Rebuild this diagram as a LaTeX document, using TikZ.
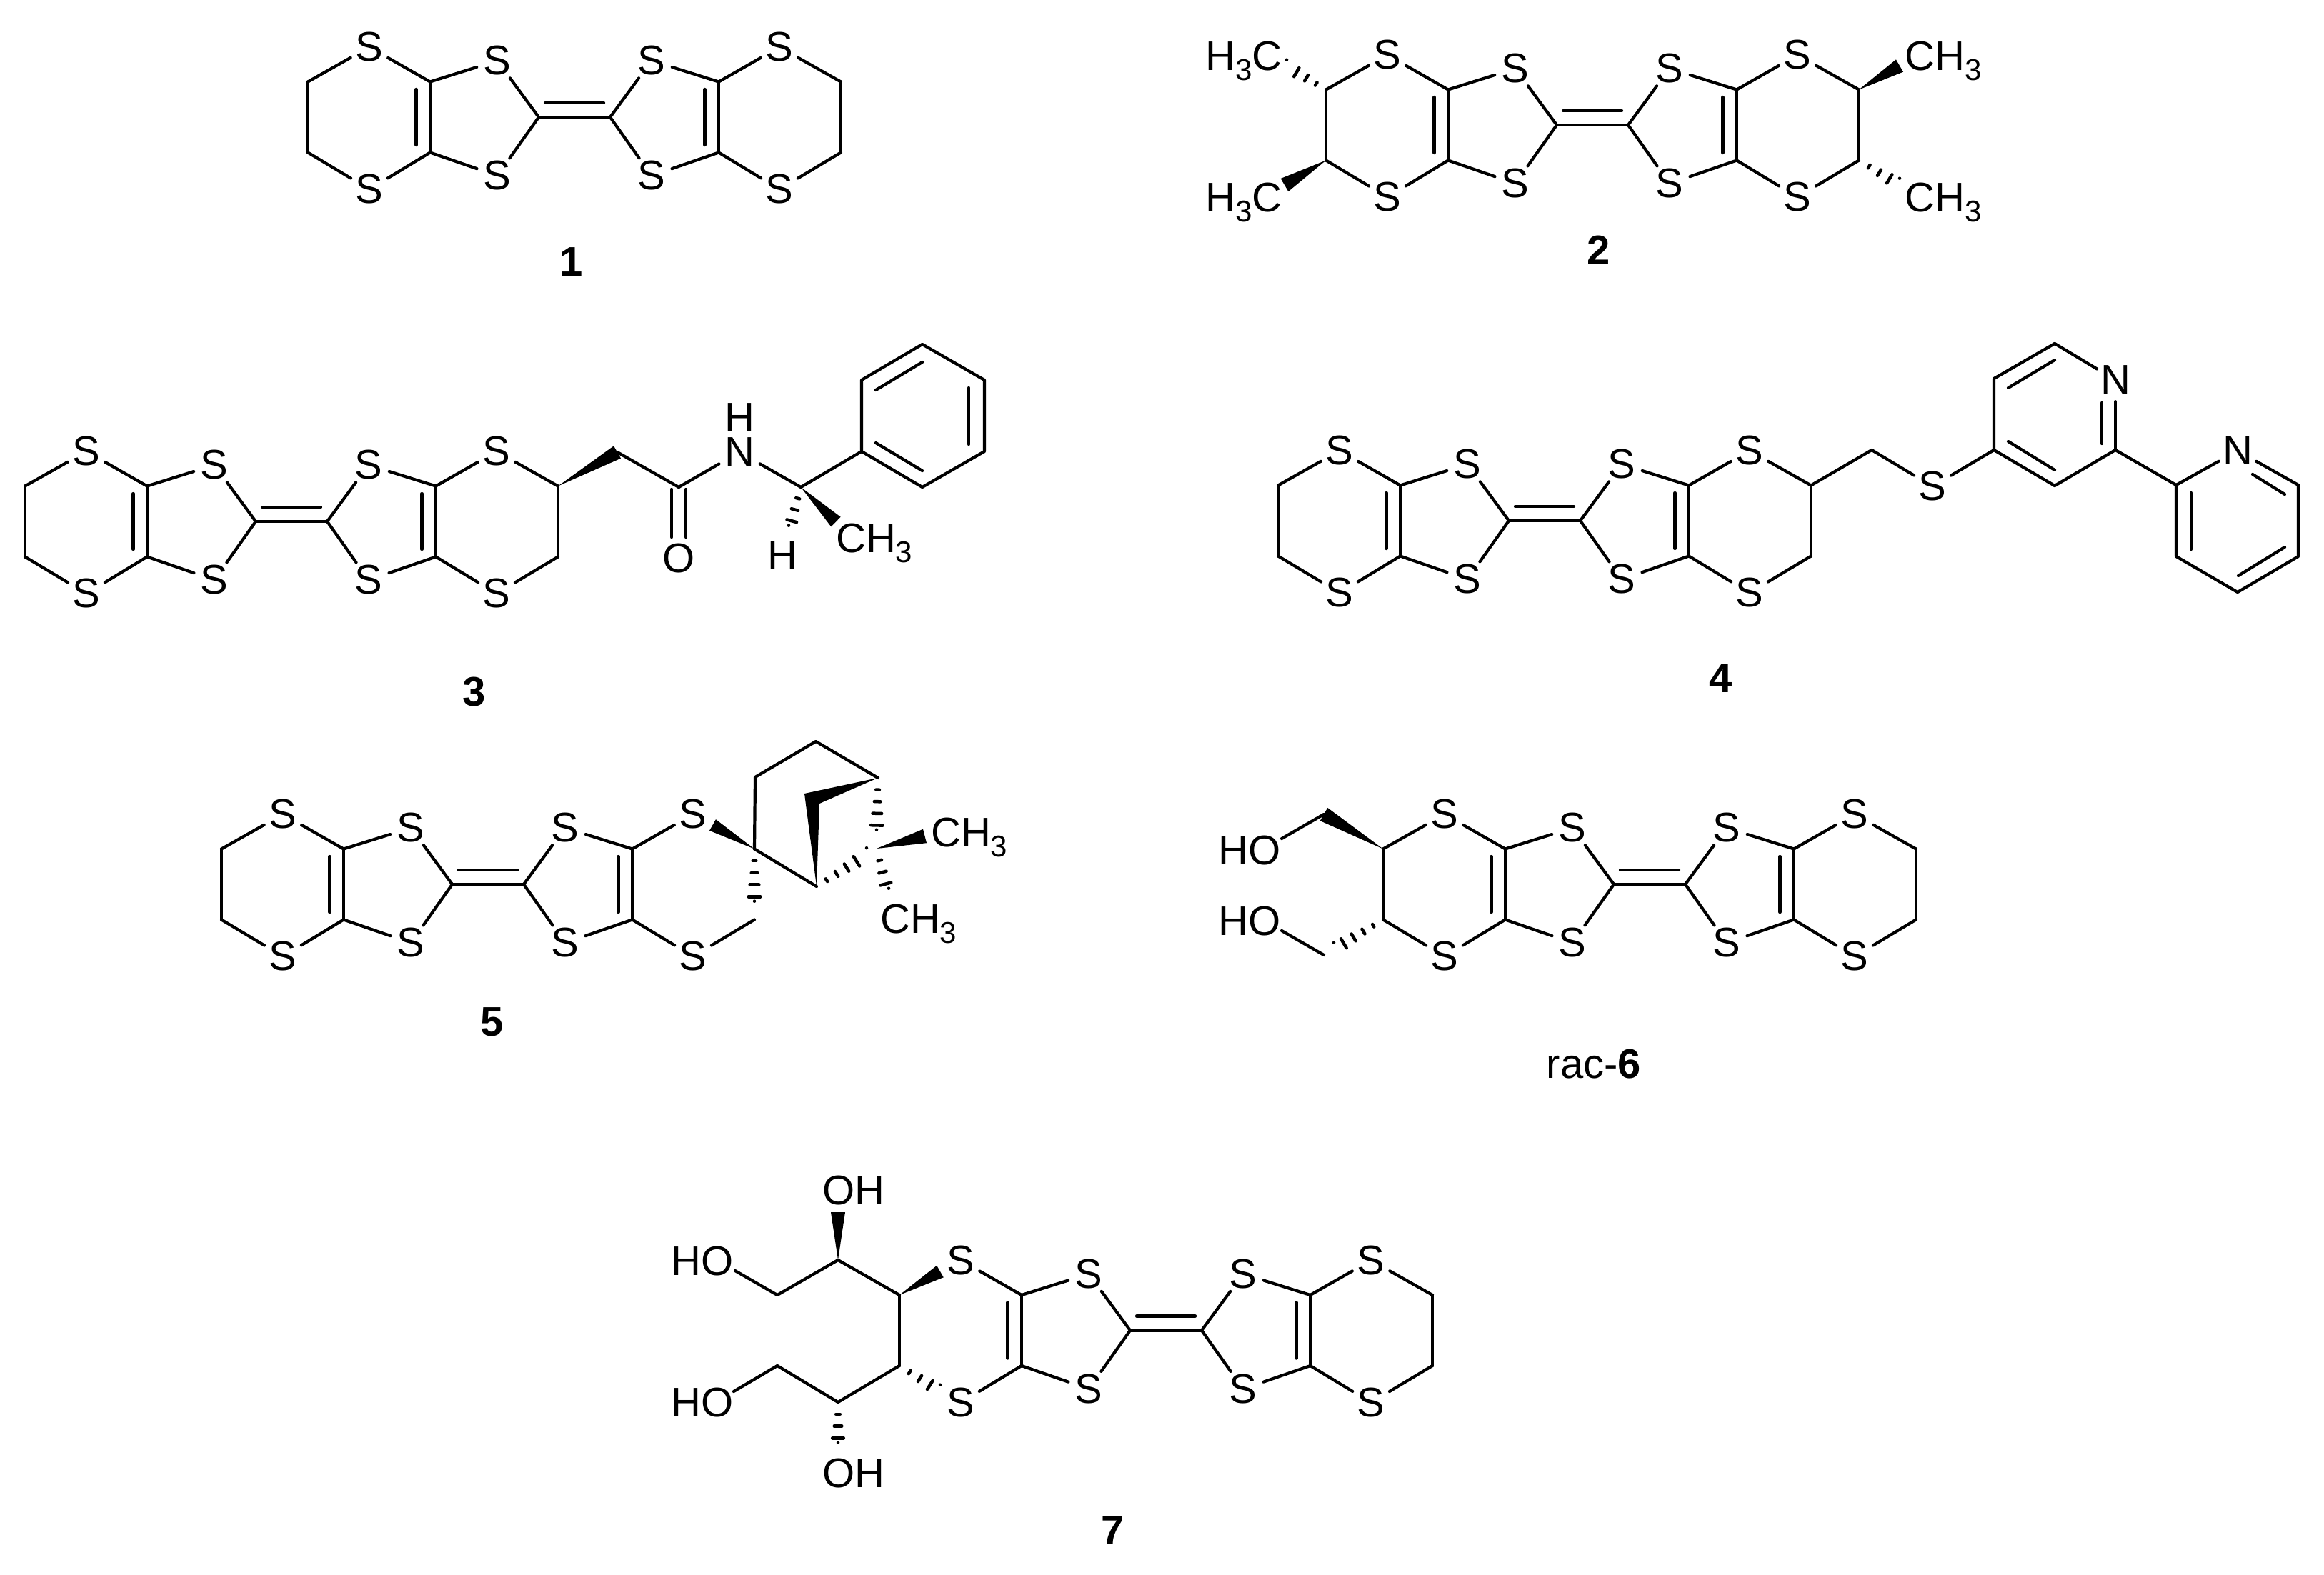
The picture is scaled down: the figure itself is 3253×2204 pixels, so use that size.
\documentclass[tikz,border=0pt]{standalone}
\usepackage{fontspec}
\setmainfont{Liberation Sans}
\usetikzlibrary{calc}
\newcommand{\chemfont}{\fontsize{58}{62}\selectfont}
\newcommand{\subn}[1]{\raisebox{-14pt}{\fontsize{42}{42}\selectfont #1}}
\tikzset{
  bond/.style={line width=4.2pt,line cap=round,line join=round,black},
  hashl/.style={line width=4.5pt,line cap=round,black},
  atom/.style={circle,inner sep=0pt,minimum size=60pt,font=\chemfont,text=black},
  group/.style={inner sep=0pt,anchor=base west,font=\chemfont,text=black},
  lab/.style={inner sep=0pt,font=\chemfont,text=black}
}
% wedge bond: #1 tip, #2 wide-end centre, #3 half width
\newcommand{\wedgeb}[3]{\fill[black] ($(#2)!#3pt!90:(#1)$) -- ($(#2)!#3pt!-90:(#1)$) -- (#1) -- cycle;}
% hashed bond: #1 narrow end, #2 wide-end centre, #3 half width, #4 number of strokes
\newcommand{\hashb}[4]{\foreach \hI in {1,...,#4}{%
  \pgfmathsetmacro{\hT}{\hI/#4}\pgfmathsetmacro{\hL}{#3*\hT+0.3}%
  \coordinate (hm) at ($(#1)!\hT!(#2)$);
  \draw[hashl] ($(hm)!\hL pt!90:(#2)$) -- ($(hm)!\hL pt!-90:(#2)$);}}
% the tetrathiafulvalene core with its six S atoms and ring carbons
\newcommand{\ttfcore}[3]{%
\begin{scope}[shift={(#2,#3)}]
  \coordinate (#1cl) at (-50,0); \coordinate (#1cr) at (50,0);
  \coordinate (#1dl) at (-41,-20); \coordinate (#1dr) at (41,-20);
  \node[atom] (#1si) at (-108,-79) {S};
  \node[atom] (#1sj) at (-108,82) {S};
  \node[atom] (#1sk) at (108,-79) {S};
  \node[atom] (#1sl) at (108,82) {S};
  \coordinate (#1aa) at (-202,-49.5); \coordinate (#1ab) at (-202,49.5);
  \coordinate (#1ba) at (202,-49.5); \coordinate (#1bb) at (202,49.5);
  \coordinate (#1ia) at (-221.5,-39); \coordinate (#1ib) at (-221.5,39);
  \coordinate (#1ja) at (182.5,-39); \coordinate (#1jb) at (182.5,39);
  \node[atom] (#1oa) at (-287,-98) {S};
  \node[atom] (#1ob) at (-287,101) {S};
  \node[atom] (#1oc) at (287,-98) {S};
  \node[atom] (#1od) at (287,101) {S};
  \coordinate (#1ua) at (-373,-49.5); \coordinate (#1ub) at (-373,49.5);
  \coordinate (#1va) at (373,-49.5); \coordinate (#1vb) at (373,49.5);
  \draw[bond] (#1cl) -- (#1cr) (#1dl) -- (#1dr);
  \draw[bond] (#1cl) -- (#1si); \draw[bond] (#1cl) -- (#1sj);
  \draw[bond] (#1cr) -- (#1sk); \draw[bond] (#1cr) -- (#1sl);
  \draw[bond] (#1aa) -- (#1si); \draw[bond] (#1ab) -- (#1sj);
  \draw[bond] (#1ba) -- (#1sk); \draw[bond] (#1bb) -- (#1sl);
  \draw[bond] (#1aa) -- (#1ab) (#1ia) -- (#1ib);
  \draw[bond] (#1ba) -- (#1bb) (#1ja) -- (#1jb);
  \draw[bond] (#1aa) -- (#1oa); \draw[bond] (#1ab) -- (#1ob);
  \draw[bond] (#1ba) -- (#1oc); \draw[bond] (#1bb) -- (#1od);
\end{scope}}
\newcommand{\closeleft}[1]{\draw[bond] (#1ua) -- (#1ub); \draw[bond] (#1ua) -- (#1oa); \draw[bond] (#1ub) -- (#1ob);}
\newcommand{\closeright}[1]{\draw[bond] (#1va) -- (#1vb); \draw[bond] (#1va) -- (#1oc); \draw[bond] (#1vb) -- (#1od);}
\begin{document}
\begin{tikzpicture}[x=1pt,y=-1pt]
\fill[white] (0,0) rectangle (3253,2204);
\useasboundingbox (0,0) rectangle (3253,2204);

% --- 1 ---
\ttfcore{p}{804}{164}
\closeleft{p}\closeright{p}
\node[lab] (labela) at (800,367) {\textbf{1}};

% --- 2 ---
\ttfcore{q}{2229}{175}
\closeleft{q}\closeright{q}
\node[group] (qga) at (1687,98) {H\subn{3}C};
\node[group] (qgb) at (1687,296) {H\subn{3}C};
\node[group] (qgc) at (2666,98) {CH\subn{3}};
\node[group] (qgd) at (2666,296) {CH\subn{3}};
\coordinate (qea) at (1801,93); \coordinate (qeb) at (1798,259);
\coordinate (qec) at (2659,92); \coordinate (qed) at (2659,259);
\hashb{qua}{qea}{9}{4}
\wedgeb{qub}{qeb}{10.5}
\wedgeb{qva}{qec}{10}
\hashb{qvb}{qed}{9}{4}
\node[lab] (labelb) at (2238,350) {\textbf{2}};

% --- 3 ---
\ttfcore{r}{408}{730}
\closeleft{r}\closeright{r}
\coordinate (rch) at (864,633);
\coordinate (rco) at (950,682);
\coordinate (rcs) at (1121,682);
\node[atom,minimum size=52pt] (rn) at (1035,633) {N};
\node[lab] (rnh) at (1035,585) {H};
\node[atom] (ro) at (950,782) {O};
\node[lab] (rh) at (1095,778) {H};
\node[group] (rme) at (1170,773) {CH\subn{3}};
\wedgeb{rva}{rch}{10}
\draw[bond] (rch) -- (rco);
\draw[bond,shorten >=4pt] (rco) -- (rn);
\draw[bond,shorten <=4pt] (rn) -- (rcs);
\coordinate (roa) at (940,685); \coordinate (rob) at (940,752);
\coordinate (roc) at (960,685); \coordinate (rod) at (960,752);
\draw[bond] (roa) -- (rob); \draw[bond] (roc) -- (rod);
\coordinate (rwe) at (1170,730.5);
\wedgeb{rcs}{rwe}{9.5}
\coordinate (rhe) at (1104,745);
\hashb{rcs}{rhe}{9}{4}
\coordinate (pha) at (1206,632); \coordinate (phb) at (1206,532);
\coordinate (phc) at (1291,482); \coordinate (phd) at (1378,532);
\coordinate (phe) at (1378,632); \coordinate (phf) at (1291,682);
\draw[bond] (rcs) -- (pha);
\draw[bond] (pha) -- (phb) -- (phc) -- (phd) -- (phe) -- (phf) -- cycle;
\coordinate (pia) at (1226,546); \coordinate (pib) at (1291,507);
\coordinate (pic) at (1356,543); \coordinate (pid) at (1356,622);
\coordinate (pie) at (1226,620); \coordinate (pif) at (1291,659);
\draw[bond] (pia) -- (pib); \draw[bond] (pic) -- (pid); \draw[bond] (pie) -- (pif);
\node[lab] (labelc) at (664,969) {\textbf{3}};

% --- 4 ---
\ttfcore{s}{2162}{729}
\closeleft{s}\closeright{s}
\coordinate (sch) at (2620,630);
\node[atom] (sts) at (2705,681) {S};
\draw[bond] (sva) -- (sch); \draw[bond] (sch) -- (sts);
\coordinate (pya) at (2791,630); \coordinate (pyb) at (2791,530);
\coordinate (pyc) at (2876,481); \node[atom] (pyn) at (2961,532) {N};
\coordinate (pyd) at (2961,630); \coordinate (pye) at (2876,680);
\draw[bond] (sts) -- (pya);
\draw[bond] (pye) -- (pya) -- (pyb) -- (pyc);
\draw[bond] (pyc) -- (pyn); \draw[bond] (pyn) -- (pyd);
\draw[bond] (pyd) -- (pye);
\coordinate (pyi) at (2811,543); \coordinate (pyj) at (2876,504);
\coordinate (pyk) at (2811,618); \coordinate (pyl) at (2876,658);
\coordinate (pym) at (2942,564); \coordinate (pyo) at (2942,621);
\draw[bond] (pyi) -- (pyj); \draw[bond] (pyk) -- (pyl); \draw[bond] (pym) -- (pyo);
\coordinate (pza) at (3046,679); \node[atom] (pzn) at (3132,631) {N};
\coordinate (pzb) at (3217,679); \coordinate (pzc) at (3217,779);
\coordinate (pzd) at (3132,829); \coordinate (pze) at (3046,779);
\draw[bond] (pyd) -- (pza);
\draw[bond] (pza) -- (pzn); \draw[bond] (pzn) -- (pzb);
\draw[bond] (pzb) -- (pzc) -- (pzd) -- (pze) -- (pza);
\coordinate (pzi) at (3153,664); \coordinate (pzj) at (3198,692);
\coordinate (pzk) at (3198,766); \coordinate (pzl) at (3133,806);
\coordinate (pzm) at (3067,690); \coordinate (pzo) at (3067,769);
\draw[bond] (pzi) -- (pzj); \draw[bond] (pzk) -- (pzl); \draw[bond] (pzm) -- (pzo);
\node[lab] (labeld) at (2409,950) {\textbf{4}};

% --- 5 ---
\ttfcore{t}{683}{1238}
\closeleft{t}
\draw[bond] (tvb) -- (tod);
\coordinate (twa) at (997.5,1155);
\wedgeb{tva}{twa}{9}
\coordinate (twb) at (1056,1272);
\hashb{tva}{twb}{10}{5}
\coordinate (tka) at (1057,1088); \coordinate (tkb) at (1142,1038);
\coordinate (tkc) at (1229,1089); \coordinate (tkd) at (1143,1241);
\coordinate (tke) at (1227,1188);
\draw[bond] (tva) -- (tka) -- (tkb) -- (tkc);
\draw[bond] (tva) -- (tkd);
\coordinate (tpa) at (1126,1111); \coordinate (tpb) at (1147,1125);
\fill[black] (tkc) -- (tpa) -- (tkd) -- (tpb) -- cycle;
\coordinate (tha) at (1227,1172);
\hashb{tkc}{tha}{10}{5}
\coordinate (thb) at (1213,1197);
\hashb{tkd}{thb}{9.5}{5}
\coordinate (thc) at (1244,1254);
\hashb{tke}{thc}{10}{4}
\coordinate (thd) at (1294.5,1170.5);
\wedgeb{tke}{thd}{10}
\node[group] (tma) at (1303,1185) {CH\subn{3}};
\node[group] (tmb) at (1232,1306) {CH\subn{3}};
\node[lab] (labele) at (689,1431) {\textbf{5}};

% --- rac-6 ---
\ttfcore{u}{2309}{1238}
\closeleft{u}\closeright{u}
\coordinate (uca) at (1853,1140); \coordinate (uea) at (1794,1174);
\wedgeb{uua}{uca}{10.5}
\draw[bond] (uca) -- (uea);
\coordinate (ucb) at (1867,1329); \coordinate (ueb) at (1794,1303);
\coordinate (ucc) at (1853,1337);
\hashb{uub}{ucb}{9}{5}
\draw[bond] (ucc) -- (ueb);
\node[group] (uha) at (1705,1210) {HO};
\node[group] (uhb) at (1705,1309) {HO};
\node[lab] (labelf) at (2231,1490) {rac-\textbf{6}};

% --- 7 ---
\ttfcore{v}{1632}{1862.5}
\closeright{v}
\draw[bond] (vua) -- (vub);
\coordinate (vwa) at (1316,1780);
\wedgeb{vua}{vwa}{9.5}
\coordinate (vwb) at (1316,1948);
\hashb{vub}{vwb}{9}{4}
\coordinate (vca) at (1173,1764); \coordinate (vcb) at (1088,1813);
\coordinate (vcc) at (1029,1779);
\coordinate (vcd) at (1173,1963); \coordinate (vce) at (1088,1912);
\coordinate (vcf) at (1027,1948);
\draw[bond] (vua) -- (vca) -- (vcb) -- (vcc);
\draw[bond] (vub) -- (vcd) -- (vce) -- (vcf);
\coordinate (vwc) at (1173,1697);
\wedgeb{vca}{vwc}{10}
\coordinate (vwd) at (1173,2030);
\hashb{vcd}{vwd}{10}{4}
\node[group] (vha) at (939,1785) {HO};
\node[group] (vhb) at (939,1983) {HO};
\node[group] (vhc) at (1151,1686) {OH};
\node[group] (vhd) at (1151,2082) {OH};
\node[lab] (labelg) at (1558,2143) {\textbf{7}};
\end{tikzpicture}
\end{document}
